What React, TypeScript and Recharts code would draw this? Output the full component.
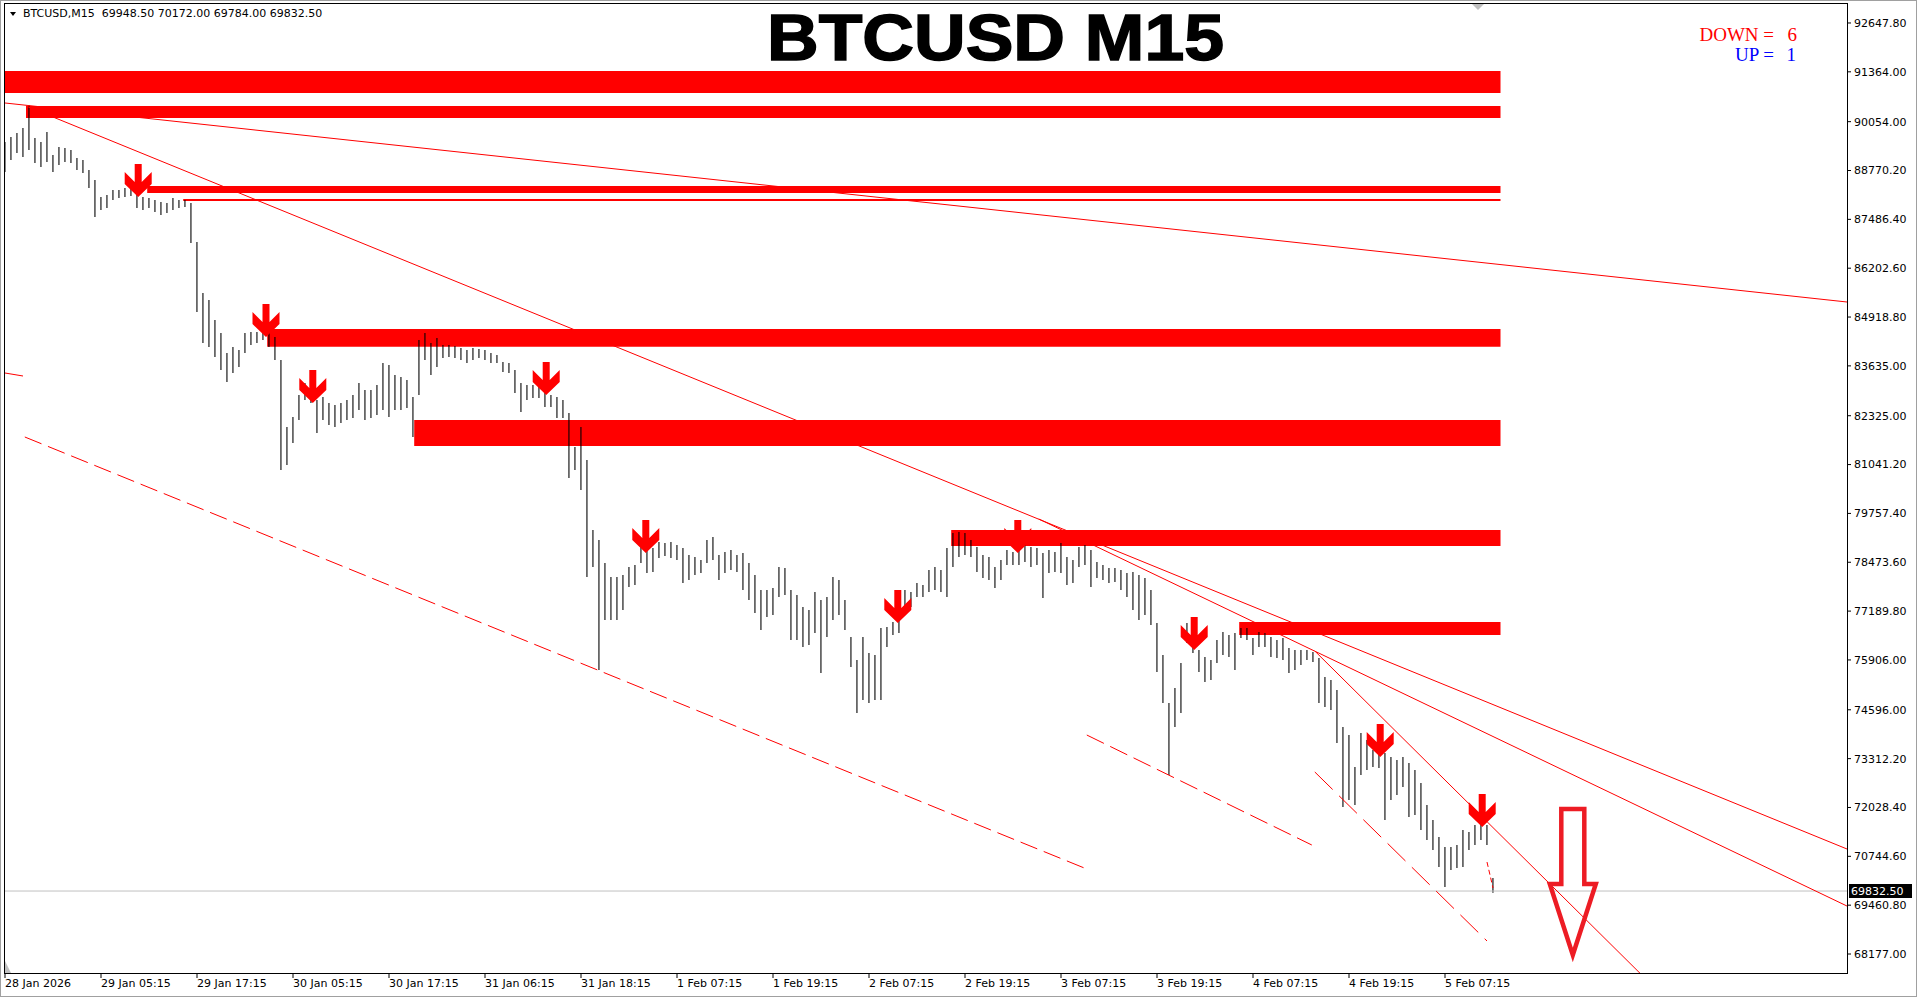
import React from 'react';
import {
  ComposedChart,
  Bar,
  Scatter,
  XAxis,
  YAxis,
  ReferenceArea,
  ReferenceLine,
} from 'recharts';

// one slot = one drawn bar (about two M15 bars of the original)
const TIME_TICKS = [0, 16, 32, 48, 64, 80, 96, 112, 128, 144, 160, 176, 192, 208, 224, 240];
const TIME_LABELS = [
  '28 Jan 2026', '29 Jan 05:15', '29 Jan 17:15', '30 Jan 05:15', '30 Jan 17:15',
  '31 Jan 06:15', '31 Jan 18:15', '1 Feb 07:15', '1 Feb 19:15', '2 Feb 07:15',
  '2 Feb 19:15', '3 Feb 07:15', '3 Feb 19:15', '4 Feb 07:15', '4 Feb 19:15', '5 Feb 07:15',
];

const PRICE_TICKS = [
  92647.8, 91364.0, 90054.0, 88770.2, 87486.4, 86202.6, 84918.8, 83635.0, 82325.0, 81041.2,
  79757.4, 78473.6, 77189.8, 75906.0, 74596.0, 73312.2, 72028.4, 70744.6, 69460.8, 68177.0,
];

const HIGHS = [
  89520, 89651, 89756, 89888, 90490, 89625, 89520, 89782, 89178, 89388,
  89362, 89309, 89099, 89047, 88784, 88521, 88075, 88127, 88258, 88258,
  88311, 88311, 88206, 88075, 88048, 87995, 87943, 87916, 88048, 87995,
  87995, 87916, 86891, 85551, 85367, 84841, 84499, 83974, 84131, 84053,
  84499, 84526, 84526, 84578, 84499, 84394, 83790, 82029, 82291, 82870,
  83185, 83054, 82738, 82817, 82659, 82607, 82659, 82738, 82870, 83185,
  83001, 83001, 83133, 83711, 83658, 83395, 83343, 83264, 82817, 84315,
  84499, 84236, 84368, 84184, 84184, 84158, 84105, 84053, 84105, 84079,
  84053, 83974, 83921, 83737, 83711, 83527, 83185, 83133, 83133, 83080,
  82922, 82870, 82817, 82738, 82397, 81503, 82029, 81161, 79321, 79059,
  78454, 78086, 78086, 78139, 78349, 78401, 78927, 78875, 78848, 79006,
  78980, 79006, 78927, 78848, 78664, 78612, 78533, 79059, 79138, 78664,
  78743, 78796, 78664, 78717, 78454, 78139, 77745, 77745, 77797, 78349,
  78322, 77745, 77613, 77298, 77219, 77692, 77482, 77561, 78086, 78007,
  77482, 76509, 75904, 76509, 76088, 76036, 76745, 76772, 76903, 76956,
  77745, 77692, 77929, 77876, 78270, 78349, 78270, 78848, 79243, 79269,
  79243, 79059, 78875, 78664, 78612, 78349, 78533, 78796, 78743, 78980,
  78927, 78875, 78848, 78717, 78796, 78743, 78980, 78612, 78533, 78875,
  78927, 78796, 78480, 78401, 78322, 78322, 78270, 78191, 78217, 78139,
  78060, 77745, 76877, 76036, 74774, 75168, 75826, 76877, 76614, 76167,
  75983, 75904, 76430, 76640, 76561, 76614, 76745, 76745, 76482, 76640,
  76614, 76509, 76430, 76482, 76220, 76167, 76167, 76167, 76115, 75957,
  75457, 75378, 75116, 74143, 73933, 73092, 73985, 73802, 73539, 73486,
  73460, 73355, 73276, 73355, 73197, 73013, 72672, 72094, 71699, 71252,
  70989, 70989, 71042, 71436, 71383, 71568, 71699, 71568, 70172,
];

const LOWS = [
  88731, 89047, 89231, 89125, 89309, 88968, 88863, 88994, 88731, 88915,
  88994, 88968, 88784, 88705, 88311, 87549, 87732, 87785, 87995, 88048,
  88075, 88101, 87785, 87732, 87785, 87680, 87601, 87654, 87732, 87785,
  87811, 86865, 85051, 84236, 84131, 83869, 83527, 83212, 83448, 83606,
  83974, 84184, 84236, 84315, 84131, 83790, 80899, 81030, 81608, 82213,
  82738, 82659, 81871, 82213, 82081, 82029, 82134, 82213, 82265, 82476,
  82213, 82265, 82344, 82476, 82291, 82476, 82476, 82528, 81766, 82870,
  83790, 83395, 83606, 83842, 83869, 83842, 83790, 83711, 83790, 83842,
  83790, 83711, 83711, 83474, 83448, 82922, 82423, 82738, 82791, 82791,
  82554, 82554, 82265, 82265, 80688, 80899, 80373, 78086, 78349, 75641,
  76956, 76956, 76956, 77219, 77823, 77876, 78454, 78191, 78217, 78585,
  78638, 78585, 78533, 77929, 78007, 78139, 78191, 78454, 78533, 78007,
  78191, 78270, 78217, 77745, 77482, 77140, 76693, 77035, 77087, 77561,
  77613, 76430, 76430, 76246, 76298, 76614, 75563, 76509, 76956, 77087,
  76693, 75720, 74511, 74853, 74774, 74853, 74853, 76246, 76561, 76614,
  77298, 77298, 77561, 77561, 77692, 77745, 77692, 77561, 78349, 78612,
  78664, 78612, 78217, 78060, 78007, 77797, 78007, 78401, 78401, 78401,
  78480, 78349, 78401, 77534, 78191, 78217, 78191, 77876, 77929, 78349,
  78401, 77823, 78060, 78007, 77929, 77955, 77745, 77561, 77219, 76956,
  77087, 76824, 75589, 74774, 72882, 74143, 74511, 76351, 76088, 75589,
  75326, 75378, 75826, 76036, 75983, 75641, 76482, 76430, 76036, 76246,
  76246, 75983, 75957, 75904, 75563, 75641, 75773, 75904, 75852, 74774,
  74669, 74590, 73723, 72041, 72225, 72094, 72882, 73013, 73092, 73066,
  71699, 72225, 72356, 72567, 71778, 71831, 71436, 71173, 70911, 70464,
  69938, 70385, 70437, 70464, 70911, 71042, 71173, 71042, 69784,
];

const LAST_PRICE = 69832.5;

// supply zones: start slot, top, bottom (all run to ZONE_END)
const ZONE_END = 249.25;
const ZONE_START = [-0.2, 3.5, 23.7, 29.7, 43.7, 68.2, 157.7, 205.7];
const ZONE_TOP = [91386, 90466, 88363, 88022, 84605, 82213, 79321, 76903];
const ZONE_BOTTOM = [90808, 90150, 88179, 87970, 84140, 81530, 78901, 76561];

// trend lines: [slot1, price1, slot2, price2]
const TRENDLINES = [
  [0, 90545, 307, 85314],
  [3.5, 90466, 307, 70937],
  [172.3, 79611, 307, 69438],
  [218.3, 76141, 276.8, 67000],
  [0, 83448, 3, 83369],
];
const CHANNEL_LINES = [
  [3.3, 81766, 180.3, 70411, '18 7'],
  [180.3, 73933, 217.8, 71042, '19 7'],
  [218.3, 72961, 247, 68519, '25 9'],
  [247, 70595, 248, 69912, '5 3'],
];

const SIGNAL_SLOTS = [22.2, 43.5, 51.3, 90.2, 106.8, 148.8, 168.8, 198.2, 229.2, 246.2];
const SIGNAL_PRICES = [88075, 84394, 82659, 82870, 78717, 76877, 78717, 76167, 73355, 71515];
const TARGET = [{ k: 261.3, p: 68151 }];

const chartData = HIGHS.map((h, i) => ({ k: i, range: [LOWS[i], h] }));
const signals = SIGNAL_SLOTS.map((k, i) => ({ k, p: SIGNAL_PRICES[i] }));

const AXIS_FONT = 'DejaVu Sans, Tahoma, sans-serif';

const SignalArrow = (props: any) => {
  const { cx, cy } = props;
  if (cx == null || cy == null) return null;
  const pts = [
    [-3.5, -33], [3.5, -33], [3.5, -15], [13.5, -25], [13.5, -13],
    [0, 0], [-13.5, -13], [-13.5, -25], [-3.5, -15],
  ];
  return <polygon points={pts.map(([dx, dy]) => `${cx + dx},${cy + dy}`).join(' ')} fill="#ff0000" />;
};

const TargetArrow = (props: any) => {
  const { cx, cy } = props;
  if (cx == null || cy == null) return null;
  const pts = [[-11.5, -146], [11.5, -146], [11.5, -71], [23, -71], [0, 0], [-23, -71], [-11.5, -71]];
  return (
    <polygon
      points={pts.map(([dx, dy]) => `${cx + dx},${cy + dy}`).join(' ')}
      fill="none"
      stroke="#ed1c24"
      strokeWidth={4.5}
      strokeMiterlimit={10}
    />
  );
};

const TimeTick = (props: any) => {
  const { x, y, payload } = props;
  const label = TIME_LABELS[TIME_TICKS.indexOf(payload.value)];
  return (
    <text x={x} y={y} dy={7} textAnchor="start" fontFamily={AXIS_FONT} fontSize={11} fill="#000">
      {label}
    </text>
  );
};

export default function App() {
  return (
    <div style={{ position: 'absolute', left: 0, top: 0, width: 1919, height: 999, background: '#fff' }}>
      <ComposedChart
        width={1919}
        height={999}
        data={chartData}
        margin={{ top: 3, right: 0, bottom: 0, left: 4 }}
      >
        <XAxis
          dataKey="k"
          type="number"
          domain={[-1 / 6, 307]}
          allowDataOverflow
          ticks={TIME_TICKS}
          interval={0}
          height={26}
          tickSize={5}
          tickMargin={2}
          axisLine={false}
          tickLine={{ stroke: '#000' }}
          tick={<TimeTick />}
        />
        <YAxis
          orientation="right"
          type="number"
          domain={[67678, 93173]}
          allowDataOverflow
          ticks={PRICE_TICKS}
          interval={0}
          width={72}
          tickSize={4}
          tickMargin={3}
          axisLine={false}
          tickLine={{ stroke: '#000' }}
          tick={{ fill: '#000', fontSize: 11, fontFamily: AXIS_FONT }}
          tickFormatter={(v: number) => v.toFixed(2)}
        />
        <ReferenceLine y={LAST_PRICE} stroke="#c0c0c0" strokeWidth={1} />
        <Bar dataKey="range" barSize={2} fill="#000" isAnimationActive={false} />
        {ZONE_START.map((s, i) => (
          <ReferenceArea
            key={`z${i}`}
            x1={s}
            x2={ZONE_END}
            y1={ZONE_BOTTOM[i]}
            y2={ZONE_TOP[i]}
            fill="#ff0000"
            fillOpacity={1}
            stroke="none"
            ifOverflow="hidden"
          />
        ))}
        {TRENDLINES.map(([x1, y1, x2, y2], i) => (
          <ReferenceLine
            key={`t${i}`}
            segment={[{ x: x1, y: y1 }, { x: x2, y: y2 }]}
            stroke="#ff0000"
            strokeWidth={1}
            ifOverflow="hidden"
          />
        ))}
        {CHANNEL_LINES.map(([x1, y1, x2, y2, dash], i) => (
          <ReferenceLine
            key={`c${i}`}
            segment={[{ x: x1 as number, y: y1 as number }, { x: x2 as number, y: y2 as number }]}
            stroke="#ff0000"
            strokeWidth={1}
            strokeDasharray={dash as string}
            ifOverflow="hidden"
          />
        ))}
        <Scatter data={signals} dataKey="p" shape={<SignalArrow />} isAnimationActive={false} />
        <Scatter data={TARGET} dataKey="p" shape={<TargetArrow />} isAnimationActive={false} />
      </ComposedChart>

      <svg
        width={1919}
        height={999}
        style={{ position: 'absolute', left: 0, top: 0, pointerEvents: 'none' }}
      >
        <rect x={0.5} y={0.5} width={1916} height={996} fill="none" stroke="#a0a0a0" />
        <rect x={4.5} y={3.5} width={1843} height={970} fill="none" stroke="#000" />
        <polygon points="5,961 5,973 11,973" fill="#c0c0c0" />
        <polygon points="1472,4 1484,4 1478,10" fill="#c0c0c0" />
        <polygon points="10,12 16,12 13,16" fill="#000" />
        <text x={23} y={17} fontFamily={AXIS_FONT} fontSize={11} fill="#000" style={{ whiteSpace: 'pre' }}>
          {'BTCUSD,M15  69948.50 70172.00 69784.00 69832.50'}
        </text>
        <text
          x={767}
          y={60}
          fontFamily="Liberation Sans, Arial, sans-serif"
          fontWeight="bold"
          fontSize={64}
          fill="#000"
          stroke="#000"
          strokeWidth={1.5}
          textLength={457}
          lengthAdjust="spacingAndGlyphs"
        >
          BTCUSD M15
        </text>
        <g fontFamily="Liberation Serif, Times New Roman, serif" fontSize={19}>
          <text x={1774} y={41} textAnchor="end" fill="#ff0000">DOWN =</text>
          <text x={1797} y={41} textAnchor="end" fill="#ff0000">6</text>
          <text x={1774} y={61} textAnchor="end" fill="#0000ff">UP =</text>
          <text x={1796} y={61} textAnchor="end" fill="#0000ff">1</text>
        </g>
        <rect x={1849} y={884} width={63} height={14} fill="#000" />
        <text x={1851} y={895} fontFamily={AXIS_FONT} fontSize={11} fill="#fff">69832.50</text>
      </svg>
    </div>
  );
}
